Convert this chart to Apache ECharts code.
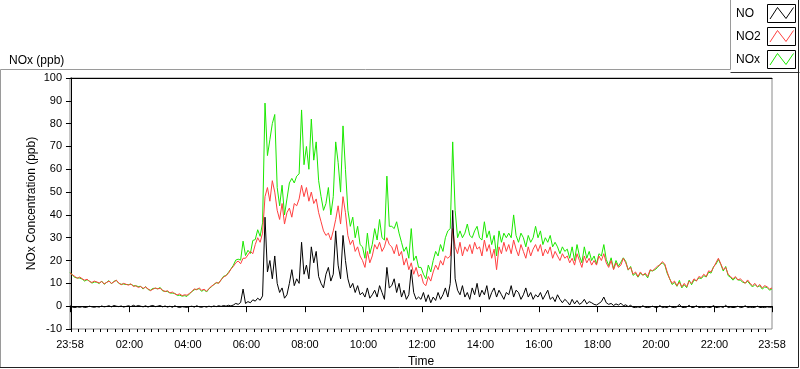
<!DOCTYPE html>
<html><head><meta charset="utf-8">
<script src="https://cdn.jsdelivr.net/npm/echarts@6/dist/echarts.min.js"></script>
<style>html,body{margin:0;padding:0;background:#fff}#c{width:800px;height:369px}</style>
</head><body><div id="c"></div>
<script>
// sampling: first sample at 23:58 (minute -2 of the day), one sample every 5 minutes
const startMinute = -2, stepMinutes = 5;
const seriesNames = ['NO', 'NO2', 'NOx'];
const seriesColors = ['#000000', '#ff4040', '#1be800'];

const no = [
 0.2,-0.4,-0.6,-0.3,-0.5,-0.2,-0.6,-0.4,0,-0.3,-0.5,-0.2,
 -0.4,0.1,-0.3,-0.1,0.2,-0.3,0.3,0,-0.2,0.1,-0.4,-0.1,
 0.2,-0.2,0.4,-0.1,0.3,0,-0.3,0.2,-0.4,0.1,0.3,-0.2,
 0,0.3,-0.3,0.1,-0.4,0,-0.5,0.2,-0.3,-0.6,-0.2,-0.4,
 -0.5,-0.2,0,-0.4,0.2,-0.3,-0.5,-0.1,-0.4,0,-0.3,0.1,
 -0.2,0.2,-0.1,0.3,0,0.4,0.1,0.5,1.2,0.8,1.6,7.5,
 1.2,2,1.5,2.8,2.2,3.5,2.6,4.5,39,15,20,12,
 22,10,6,8,3.5,5,10,16,9,12,10,28,
 14,18,12,26,19,24,13,10,8,14,17,11,
 14,33,18,12,31,20,12,8,10,6,9,5,
 6,4,8,3.5,5,7,4,9,6,3,17,8,
 9,12,6,10,4,7,3,5,16,6,3,4,
 3,6,2,5,1.5,4,2.5,6,3,5,8,4,
 10,42,12,7,5,9,4,6,3,8,5,10,
 4,7,5,9,3,6,8,4,7,5,3,6,
 5,9,4,7,6,3,5,8,4,6,3,5,
 4,6,3,5,7,3,4,2,5,3,1.5,3,
 2,0.5,3,1,2.5,0.8,1.5,3,1,2,1.5,0.8,
 0.5,1.2,2,4,1.5,0.8,1.2,0.3,1,0.5,1.3,0.2,
 0.6,-0.2,0.4,-0.5,-0.6,-0.3,-0.6,0.2,-0.5,-0.6,-0.4,0,
 -0.5,-0.6,0.3,-0.6,-0.4,-0.6,0.1,-0.5,-0.6,-0.3,0.8,-0.5,
 -0.6,-0.4,0.4,-0.6,-0.5,0.2,-0.6,-0.4,-0.6,-0.2,-0.6,-0.5,
 0.3,-0.6,-0.5,-0.2,-0.6,0.4,-0.6,-0.4,-0.6,-0.5,0,-0.6,
 -0.5,0.2,-0.6,-0.4,-0.6,-0.5,0,-0.6,-0.5,-0.6,-0.3,-0.5,
 -0.4
];

const no2 = [
 14.5,13.8,13,12.2,12.8,12,11.4,11.8,10.8,10.4,11,10.6,
 10.2,10.8,9.8,10.4,11,10,10.6,11.4,10.2,9.4,10,9.6,
 9.2,9.8,8.6,9,8.2,8.6,7.8,8.4,7.6,6.8,7.4,8,
 7.6,7.8,7,6.4,6.8,5.8,6.2,5.4,5,5.4,4.6,5,
 4.8,5.6,6.4,7.6,7.2,8,7,7.4,6.6,7.6,8.8,9.4,
 10.4,10,11.6,12.8,13.4,14.4,16.2,17.4,19,19.8,18.6,21,
 21,22.5,24,23,27,30,28,32,48,52,46,55,
 50,42,38,45,36,41,43,39,45,44,47,53,
 48,52,46,50,45,47,41,37,33,31,32,29,
 33,38,44,36,48,41,31,27,29,24,26,22,
 20,17,24,19,22,27,25,28,24,26,30,27,
 26,23,27,22,24,18,21,16,19,14,17,13,
 14,10,9,13,11,15,18,16,20,18,22,21,
 22,34,26,23,28,22,26,24,27,23,28,25,
 26,22,29,24,27,21,25,16,26,23,28,24,
 27,23,29,25,22,27,24,21,26,22,25,27,
 24,27,22,25,23,26,21,24,22,20,23,21,
 22,19,21,18,23,20,17,22,19,21,18,20,
 18,22,20,23,19,17,20,16,19,17,18,21,
 19,16,17,14,15,13,15,13.5,14.5,13,16,15.5,
 16.5,17.5,18,19.5,18.5,15,12,10,11,9,10.5,8.5,
 10,8.5,11,10,12,11,13,12.5,14,13,15.5,15,
 17,19,21,18.5,16,17,14,13,12,13,11.5,12,
 11,10,11.5,10,9,10,8.5,9.5,8,9,8.5,7.5,
 8
];

const nox = [
 14.8,13.6,12.6,12.4,12.3,11.9,11,11.6,11,10.1,10.6,10.5,
 9.9,11,9.6,10.4,11.2,9.8,10.9,11.3,10,9.6,9.7,9.5,
 9.5,9.6,9,8.9,8.6,8.7,7.5,8.6,7.3,7,7.8,7.8,
 7.6,8.2,6.7,6.5,6.4,5.8,5.7,5.6,4.7,4.8,4.4,4.6,
 4.3,5.4,6.4,7.2,7.4,7.7,6.5,7.3,6.2,7.6,8.5,9.5,
 10.2,10.2,11.5,13.1,13.4,14.8,16.3,17.9,20.2,20.6,20.2,28.5,
 22.2,24.5,23.1,28.8,29.2,33.5,30.6,36.5,89,66,73,80,
 84,52,44,53,40,47,54,56,54,57,58,86,
 62,70,60,82,64,72,55,48,42,45,52,40,
 48,72,63,50,79,60,42,35,39,30,35,27,
 26,21,32,23,27,34,29,38,30,29,57,35,
 35,34,37,32,28,24,26,21,34,20,22,17,
 17,14,12,18,15,20,24,22,27,24,30,33,
 34,72,42,30,33,30,32,36,31,30,33,35,
 30,29,37,30,33,27,31,22,33,28,32,30,
 32,30,40,31,28,32,30,26,31,28,30,35,
 30,33,27,30,28,31,26,28,26,23,26,24,
 25,21,26,20,27,22,19,26,21,24,20,22,
 18.5,23,22,27,20.5,17.8,21.2,16.3,20,17.5,19.3,21.2,
 19.6,15.8,17.4,13.5,14.4,12.7,14.4,13.7,14,12.4,15.6,15.5,
 16,16.9,18.3,18.9,18.1,14.4,12.1,9.5,10.4,8.7,11.3,8,
 9.4,8.1,11.4,9.4,11.5,11.2,12.4,12.1,13.4,12.8,14.9,14.5,
 17.3,18.4,20.5,18.3,15.4,17.4,13.4,12.6,11.4,12.5,11.5,11.4,
 10.5,10.2,10.9,9.6,8.4,9.5,8.5,8.9,7.5,8.4,8.2,7,
 7.6
];

const xTickValues = [-2,120,240,360,480,600,720,840,960,1080,1200,1320,1438];
const xTickLabels = ['23:58','02:00','04:00','06:00','08:00','10:00','12:00','14:00','16:00','18:00','20:00','22:00','23:58'];
const minorTickValues = [];
for (let m = 0; m < 1440; m += 15) minorTickValues.push(m);

const toPairs = arr => arr.map((v, i) => [startMinute + i * stepMinutes, v]);
const FONT = 'Liberation Sans';

const chart = echarts.init(document.getElementById('c'), null, {renderer: 'canvas'});

// legend drawn as graphic, from names/colours
const legendChildren = [];
seriesNames.forEach((name, i) => {
  const dy = 23 * i;
  legendChildren.push({type: 'text', x: 736, y: 13.5 + dy, style: {text: name, font: '12px ' + FONT, fill: '#000', verticalAlign: 'middle'}});
  legendChildren.push({type: 'rect', shape: {x: 767.5, y: 4.5 + dy, width: 28, height: 18}, style: {fill: '#fff', stroke: '#000', lineWidth: 1}});
  legendChildren.push({type: 'polyline', shape: {points: [[770, 19 + dy], [777.5, 7.5 + dy], [786, 18.5 + dy], [793.5, 7.5 + dy]]}, style: {stroke: seriesColors[i], lineWidth: 1, fill: null}});
});

chart.setOption({
  animation: false,
  backgroundColor: '#fff',
  title: {text: 'NOx (ppb)', left: 4, top: 50, textStyle: {fontFamily: FONT, fontSize: 12, fontWeight: 'normal', color: '#000'}},
  grid: {left: 70, right: 28, top: 78, bottom: 40, show: true, borderColor: '#8a8a8a', borderWidth: 1, backgroundColor: '#fff', outerBoundsMode: 'none', containLabel: false},
  graphic: [
    {type: 'polyline', shape: {points: [[0.5, 368], [0.5, 69.5], [730.5, 69.5], [730.5, 0]]}, style: {stroke: '#9a9a9a', lineWidth: 1, fill: null}},
    {type: 'polyline', shape: {points: [[730.5, 72.5], [799.5, 72.5]]}, style: {stroke: '#333', lineWidth: 1, fill: null}},
    {type: 'polyline', shape: {points: [[798.5, 0], [798.5, 367.5], [0, 367.5]]}, style: {stroke: '#222', lineWidth: 1, fill: null}},
    {type: 'group', children: legendChildren}
  ],
  xAxis: [
    {
      type: 'value', min: -2, max: 1438, position: 'bottom',
      name: 'Time', nameLocation: 'middle', nameGap: 27, nameMoveOverlap: false,
      nameTextStyle: {fontFamily: FONT, fontSize: 12, color: '#000'},
      axisLine: {show: true, lineStyle: {color: '#000', width: 1}},
      axisTick: {show: true, customValues: xTickValues, length: 6, lineStyle: {color: '#000', width: 1}},
      axisLabel: {customValues: xTickValues, fontFamily: FONT, fontSize: 11, color: '#000', margin: 10,
        formatter: v => xTickLabels[xTickValues.indexOf(v)], showMinLabel: true, showMaxLabel: true},
      splitLine: {show: false}
    },
    {
      type: 'value', min: -2, max: 1438, position: 'bottom',
      axisLine: {show: false},
      axisTick: {show: true, customValues: minorTickValues, length: 3, lineStyle: {color: '#000', width: 1}},
      axisLabel: {show: false},
      splitLine: {show: false}
    },
    {
      type: 'value', min: -2, max: 1438, position: 'top',
      axisLine: {show: true, lineStyle: {color: '#000', width: 1}},
      axisTick: {show: false}, axisLabel: {show: false}, splitLine: {show: false}
    }
  ],
  yAxis: {
    type: 'value', min: -10, max: 100, interval: 10,
    name: 'NOx Concentration (ppb)', nameLocation: 'middle', nameGap: 32, nameRotate: 90, nameMoveOverlap: false,
    nameTextStyle: {fontFamily: FONT, fontSize: 12, color: '#000'},
    axisLine: {show: true, lineStyle: {color: '#000', width: 1}},
    axisTick: {show: true, length: 5, lineStyle: {color: '#000'}},
    axisLabel: {fontFamily: FONT, fontSize: 11, color: '#000', margin: 8},
    splitLine: {show: false}
  },
  series: [
    {name: seriesNames[2], type: 'line', data: toPairs(nox), showSymbol: false, symbol: 'none', lineStyle: {color: seriesColors[2], width: 1}, itemStyle: {color: seriesColors[2]}},
    {name: seriesNames[1], type: 'line', data: toPairs(no2), showSymbol: false, symbol: 'none', lineStyle: {color: seriesColors[1], width: 1}, itemStyle: {color: seriesColors[1]}},
    {name: seriesNames[0], type: 'line', data: toPairs(no), showSymbol: false, symbol: 'none', lineStyle: {color: seriesColors[0], width: 1}, itemStyle: {color: seriesColors[0]}}
  ]
});
</script>
</body></html>
